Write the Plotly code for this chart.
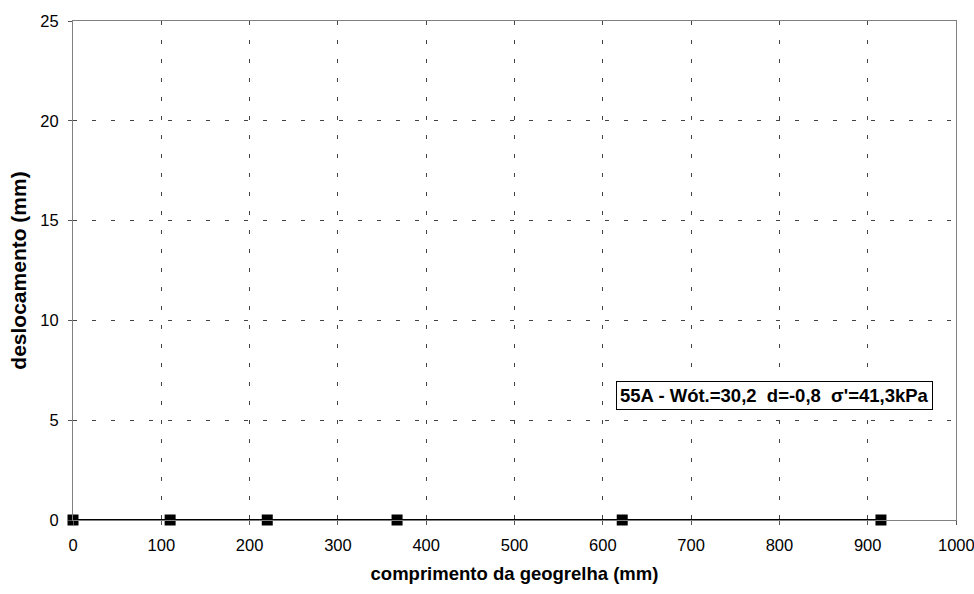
import plotly.graph_objects as go

comprimento = [0, 110, 220, 367, 622, 915]
deslocamento = [0, 0, 0, 0, 0, 0]
x_ticks = [0, 100, 200, 300, 400, 500, 600, 700, 800, 900, 1000]
y_ticks = [0, 5, 10, 15, 20, 25]
label = "55A - Wót.=30,2  d=-0,8  σ'=41,3kPa"

FONT = "Liberation Sans, Arial, sans-serif"

fig = go.Figure()
fig.add_trace(go.Scatter(
    x=comprimento, y=deslocamento, mode="lines+markers",
    line=dict(color="black", width=2),
    marker=dict(symbol="square", size=11, color="black"),
    showlegend=False, cliponaxis=False,
))

fig.add_annotation(
    x=795, y=6.25, xref="x", yref="y", text="<b>" + label + "</b>",
    showarrow=False, font=dict(family=FONT, size=18.5, color="black"),
    bordercolor="black", borderwidth=1, borderpad=3, bgcolor="white",
)

# last x tick label drawn as annotation so it does not push the right margin
x_ticktext = [str(v) for v in x_ticks[:-1]] + [""]
fig.add_annotation(
    x=x_ticks[-1], y=0, xref="x", yref="paper", text=str(x_ticks[-1]),
    showarrow=False, yanchor="middle", yshift=-25,
    font=dict(family=FONT, size=16.5, color="black"),
)

grid = dict(showgrid=True, gridcolor="#444", griddash="4px,15px", gridwidth=1)

fig.update_layout(
    width=974, height=594,
    margin=dict(l=73, r=18, t=17, b=74),
    paper_bgcolor="white", plot_bgcolor="white",
    font=dict(family=FONT, size=16.5, color="black"),
    xaxis=dict(
        range=[0, 1000], tickvals=x_ticks, ticktext=x_ticktext,
        ticks="outside", ticklen=4,
        tickcolor="#555", showline=True, linecolor="#808080", linewidth=1,
        mirror=True, zeroline=False, ticklabelstandoff=6, **grid,
        title=dict(text="<b>comprimento da geogrelha (mm)</b>", font=dict(size=18.5), standoff=14),
    ),
    yaxis=dict(
        range=[0, 25], tickvals=y_ticks, ticks="outside", ticklen=4,
        tickcolor="#555", showline=True, linecolor="#808080", linewidth=1,
        mirror=True, zeroline=False, ticklabelstandoff=6, **grid,
        title=dict(text="<b>deslocamento (mm)</b>", font=dict(size=21), standoff=7),
    ),
)

fig.write_html("out.html")
